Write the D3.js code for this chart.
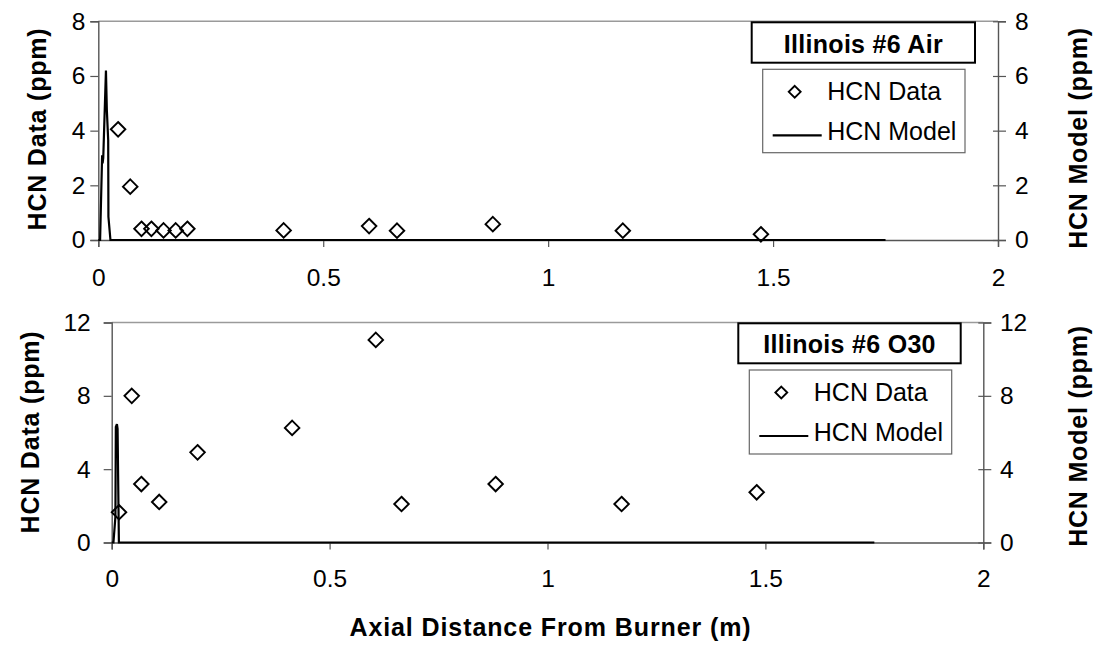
<!DOCTYPE html>
<html>
<head>
<meta charset="utf-8">
<script src="https://cdn.jsdelivr.net/npm/d3@7"></script>
<style>
  html, body { margin: 0; padding: 0; background: #fff; }
  svg { display: block; font-family: "Liberation Sans", Arial, sans-serif; }
</style>
</head>
<body>
<svg id="chart" width="1099" height="660"></svg>
<script>
// ---------- data ----------
const xTicks = [0, 0.5, 1, 1.5, 2];
const xTickLabels = ["0", "0.5", "1", "1.5", "2"];

// Panel 1: Illinois #6 Air
const airTitle = "Illinois #6 Air";
const airYTicks = [0, 2, 4, 6, 8];
const airDataX = [0.044, 0.071, 0.096, 0.118, 0.145, 0.172, 0.198, 0.412, 0.602, 0.664, 0.877, 1.166, 1.473];
const airDataY = [4.05, 1.95, 0.41, 0.41, 0.35, 0.35, 0.41, 0.35, 0.51, 0.34, 0.58, 0.34, 0.21];
const airModelX = [0, 0.004, 0.0085, 0.0095, 0.011, 0.017, 0.019, 0.022, 0.0225, 0.027, 0.05, 1.75];
const airModelY = [0, 0, 3.1, 2.8, 3.0, 6.2, 4.75, 3.65, 0.85, 0, 0, 0];

// Panel 2: Illinois #6 O30
const o30Title = "Illinois #6 O30";
const o30YTicks = [0, 4, 8, 12];
const o30DataX = [0.0168, 0.046, 0.068, 0.109, 0.197, 0.414, 0.606, 0.665, 0.881, 1.170, 1.480];
const o30DataY = [1.65, 8.0, 3.19, 2.21, 4.92, 6.25, 11.05, 2.1, 3.19, 2.1, 2.74];
const o30ModelX = [0, 0.004, 0.0085, 0.0095, 0.012, 0.0135, 0.0165, 0.03, 1.75];
const o30ModelY = [0, 0, 1.4, 6.3, 6.46, 6.2, 0, 0, 0];

const seriesNames = ["HCN Data", "HCN Model"];
const leftTitle = "HCN Data (ppm)";
const rightTitle = "HCN Model (ppm)";
const xTitle = "Axial Distance From Burner (m)";

// ---------- layout ----------
const panels = [
  { title: airTitle, yMax: 8, yTicks: airYTicks, dx: airDataX, dy: airDataY, mx: airModelX, my: airModelY,
    left: 98.3, right: 998, top: 21.3, bottom: 240,
    xLabPad: 22, yLabPadL: 13, yLabPadR: 17,
    tbox: { x: 751.7, y: 22.3, w: 223.3, h: 40.4 }, lbox: { x: 762.7, y: 69.3, w: 202.3, h: 83.4 },
    leftTitleX: 46, leftTitleY: 129, rightTitleX: 1087, rightTitleY: 138 },
  { title: o30Title, yMax: 12, yTicks: o30YTicks, dx: o30DataX, dy: o30DataY, mx: o30ModelX, my: o30ModelY,
    left: 111.7, right: 983.3, top: 322.5, bottom: 542.5,
    xLabPad: 20.5, yLabPadL: 21, yLabPadR: 16.7,
    tbox: { x: 738.3, y: 323.3, w: 222.4, h: 40 }, lbox: { x: 749.3, y: 370, w: 202.4, h: 84 },
    leftTitleX: 38.5, leftTitleY: 432, rightTitleX: 1087, rightTitleY: 436 }
];

const svg = d3.select("#chart");
const axisColor = "#555";

panels.forEach(p => {
  const x = d3.scaleLinear().domain([0, 2]).range([p.left, p.right]);
  const y = d3.scaleLinear().domain([0, p.yMax]).range([p.bottom, p.top]);
  const g = svg.append("g");

  // plot-area top border
  g.append("line").attr("x1", p.left).attr("x2", p.right).attr("y1", p.top).attr("y2", p.top)
    .attr("stroke", "#9a9a9a").attr("stroke-width", 1.5);

  // x axis
  const xAxis = g.append("g").attr("transform", `translate(0,${p.bottom})`)
    .call(d3.axisBottom(x).tickValues(xTicks).tickFormat((d, i) => xTickLabels[i])
      .tickSizeOuter(0).tickSize(7).tickPadding(p.xLabPad));
  // left axis
  const yL = g.append("g").attr("transform", `translate(${p.left},0)`)
    .call(d3.axisLeft(y).tickValues(p.yTicks).tickSizeOuter(0).tickSize(8).tickPadding(p.yLabPadL - 8));
  // right axis
  const yR = g.append("g").attr("transform", `translate(${p.right},0)`)
    .call(d3.axisRight(y).tickValues(p.yTicks).tickSizeOuter(0).tickSize(8).tickPadding(p.yLabPadR - 8));
  yR.selectAll(".tick line").attr("x1", -5);

  [xAxis, yL, yR].forEach(a => {
    a.select(".domain").attr("stroke", axisColor).attr("stroke-width", 1.4);
    a.selectAll(".tick line").attr("stroke", axisColor).attr("stroke-width", 1.2);
    a.selectAll(".tick text").attr("font-size", 24.5).attr("fill", "#000")
      .attr("font-family", '"Liberation Sans", Arial, sans-serif');
  });

  // model line
  const modelPts = p.mx.map((v, i) => [v, p.my[i]]);
  g.append("path").datum(modelPts)
    .attr("d", d3.line().x(d => x(d[0])).y(d => y(d[1])))
    .attr("fill", "none").attr("stroke", "#000").attr("stroke-width", 2.2).attr("stroke-linejoin", "miter");

  // data diamonds
  const dataPts = p.dx.map((v, i) => [v, p.dy[i]]);
  const diamond = d3.symbol().type(d3.symbolDiamond2).size(135);
  g.selectAll(".pt").data(dataPts).join("path")
    .attr("transform", d => `translate(${x(d[0])},${y(d[1])})`)
    .attr("d", diamond).attr("fill", "none").attr("stroke", "#000").attr("stroke-width", 1.9);

  // title box
  g.append("rect").attr("x", p.tbox.x).attr("y", p.tbox.y).attr("width", p.tbox.w).attr("height", p.tbox.h)
    .attr("fill", "#fff").attr("stroke", "#000").attr("stroke-width", 2);
  g.append("text").attr("x", p.tbox.x + p.tbox.w / 2).attr("y", p.tbox.y + p.tbox.h - 10)
    .attr("text-anchor", "middle").attr("font-size", 25).attr("font-weight", "bold")
    .attr("letter-spacing", 0.3).text(p.title);

  // legend box
  const lb = p.lbox;
  g.append("rect").attr("x", lb.x).attr("y", lb.y).attr("width", lb.w).attr("height", lb.h)
    .attr("fill", "#fff").attr("stroke", "#666").attr("stroke-width", 1.2);
  const legDiamond = d3.symbol().type(d3.symbolDiamond2).size(90);
  g.append("path").attr("transform", `translate(${lb.x + 32},${lb.y + 22.5})`)
    .attr("d", legDiamond).attr("fill", "none").attr("stroke", "#000").attr("stroke-width", 1.9);
  g.append("line").attr("x1", lb.x + 10).attr("x2", lb.x + 59).attr("y1", lb.y + 66).attr("y2", lb.y + 66)
    .attr("stroke", "#000").attr("stroke-width", 2.2);
  g.append("text").attr("x", lb.x + 64.5).attr("y", lb.y + 31).attr("font-size", 25).text(seriesNames[0]);
  g.append("text").attr("x", lb.x + 64.5).attr("y", lb.y + 71).attr("font-size", 25).text(seriesNames[1]);

  // axis titles
  g.append("text").attr("transform", `translate(${p.leftTitleX},${p.leftTitleY}) rotate(-90)`)
    .attr("text-anchor", "middle").attr("font-size", 25).attr("font-weight", "bold")
    .attr("letter-spacing", 0.8).text(leftTitle);
  g.append("text").attr("transform", `translate(${p.rightTitleX},${p.rightTitleY}) rotate(-90)`)
    .attr("text-anchor", "middle").attr("font-size", 25).attr("font-weight", "bold")
    .attr("letter-spacing", 0.8).text(rightTitle);
});

svg.append("text").attr("x", 550.5).attr("y", 636).attr("text-anchor", "middle")
  .attr("font-size", 25).attr("font-weight", "bold").attr("letter-spacing", 0.9).text(xTitle);
</script>
</body>
</html>
